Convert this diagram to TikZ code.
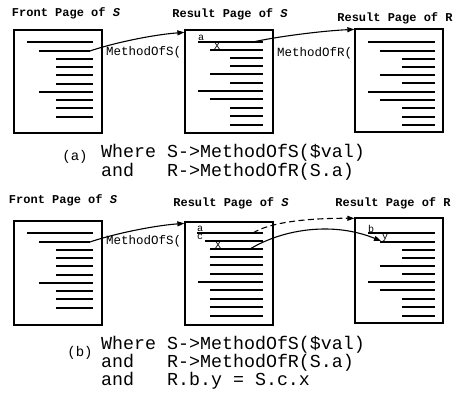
\documentclass[tikz,border=0pt]{standalone}
\usepackage{fontspec}
\setmonofont{Liberation Mono}
\usetikzlibrary{arrows.meta}
\begin{document}
\begin{tikzpicture}[x=1pt,y=-1pt,
  page/.style={draw, line width=1.3pt, inner sep=0pt, minimum width=88pt, minimum height=103pt},
  tl/.style={line width=1.2pt},
  ttl/.style={font=\ttfamily\bfseries\fontsize{12}{12}\selectfont, inner sep=0pt},
  lbl/.style={font=\ttfamily\fontsize{12.5}{12.5}\selectfont, inner sep=0pt, anchor=west},
  tiny/.style={font=\ttfamily\fontsize{10}{10}\selectfont, inner sep=0pt},
  captxt/.style={font=\ttfamily\fontsize{18.3}{18.3}\selectfont, inner sep=0pt, anchor=base west},
  capl/.style={font=\ttfamily\fontsize{14}{14}\selectfont, inner sep=0pt, anchor=base},
  conn/.style={line width=1.1pt, -{Triangle[length=7pt,width=5pt]}},
]
\useasboundingbox (0,0) rectangle (460,403);

% ---------------- panel (a) ----------------
\node[ttl] (ta1) at (66,13) {Front Page of \textit{S}};
\node[ttl] (ta2) at (230,14) {Result Page of \textit{S}};
\node[ttl] (ta3) at (395,18) {Result Page of R};

\node[page] (a1) at (58,81.5) {};
\node[page] (a2) at (229,81.5) {};
\node[page] (a3) at (399,80.5) {};

\foreach \yy/\xx in {42/27,59/56,67/56,75/56,84/56,92/39,100/56,108/56,117/56}
  \draw[tl] (\xx,\yy) -- (93,\yy);
\draw[tl] (39,51) -- (90,51);
\coordinate (a1s) at (90,51);

\foreach \yy/\xx in {42/198,50/210,58/230,66/230,74/210,83/230,91/198,99/210,108/230,116/230,125/230}
  \draw[tl] (\xx,\yy) -- (263,\yy);
\coordinate (a2s) at (253,42);
\node[tiny] (aa) at (201,37.5) {a};
\node[tiny] (ax) at (217,46.5) {X};

\foreach \yy/\xx in {42/368,51/380,59/402,67/402,75/380,83/402,92/368,100/380,108/402,117/402,125/402}
  \draw[tl] (\xx,\yy) -- (435,\yy);

\draw[conn] (a1s) .. controls (110,44) and (150,35) .. ([yshift=-3pt]a2.north west);
\draw[conn] (a2s) .. controls (275,37) and (320,31) .. ([yshift=-1pt]a3.north west);
\node[lbl] (la1) at (106,52) {MethodOfS(};
\node[lbl] (la2) at (277,53) {MethodOfR(};

\node[capl] (capa) at (75,161) {(a)};
\node[captxt] (ca1) at (101,158) {Where};
\node[captxt] (ca2) at (167,158) {S->MethodOfS(\$val)};
\node[captxt] (ca3) at (101,177) {and};
\node[captxt] (ca4) at (167,177) {R->MethodOfR(S.a)};

% ---------------- panel (b) ----------------
\node[ttl] (tb1) at (63,200) {Front Page of \textit{S}};
\node[ttl] (tb2) at (231,203) {Result Page of \textit{S}};
\node[ttl] (tb3) at (393,203) {Result Page of R};

\node[page, minimum height=104pt] (b1) at (58,273) {};
\node[page] (b2) at (229,273.5) {};
\node[page, minimum height=105pt] (b3) at (399,270.5) {};

\foreach \yy/\xx in {233/27,250/56,258/56,266/56,275/56,283/39,291/56,299/56,308/56}
  \draw[tl] (\xx,\yy) -- (93,\yy);
\draw[tl] (39,242) -- (90,242);
\coordinate (b1s) at (90,242);

\foreach \yy/\xx in {233/197,241/205,249/210,257/210,265/210,274/210,282/198,290/210,299/210,307/210,316/210}
  \draw[tl] (\xx,\yy) -- (263,\yy);
\coordinate (b2a) at (253,233);
\coordinate (b2x) at (250,249);
\node[tiny] (ba) at (200,228.5) {a};
\node[tiny] (bc) at (200,237) {c};
\node[tiny] (bx) at (218,245) {X};

\foreach \yy/\xx in {233/368,242/380,250/402,258/402,266/380,274/402,282/368,290/380,299/402,307/402,316/402}
  \draw[tl] (\xx,\yy) -- (435,\yy);
\node[tiny] (bb) at (371,228.5) {b};
\node[tiny] (by) at (385,237.5) {y};
\coordinate (byt) at (381,241);

\draw[conn] (b1s) .. controls (110,235) and (150,226) .. ([yshift=-2pt]b2.north west);
\draw[conn, dashed, dash pattern=on 6pt off 3.5pt] (b2a) .. controls (270,222) and (310,218) .. ([yshift=-1pt]b3.north west);
\draw[conn] (b2x) .. controls (285,228) and (335,222) .. (byt);
\node[lbl] (lb1) at (106,241) {MethodOfS(};

\node[capl] (capb) at (80,356) {(b)};
\node[captxt] (cb1) at (101,349) {Where};
\node[captxt] (cb2) at (167,349) {S->MethodOfS(\$val)};
\node[captxt] (cb3) at (101,367) {and};
\node[captxt] (cb4) at (167,367) {R->MethodOfR(S.a)};
\node[captxt] (cb5) at (101,385) {and};
\node[captxt] (cb6) at (167,385) {R.b.y = S.c.x};
\end{tikzpicture}
\end{document}
